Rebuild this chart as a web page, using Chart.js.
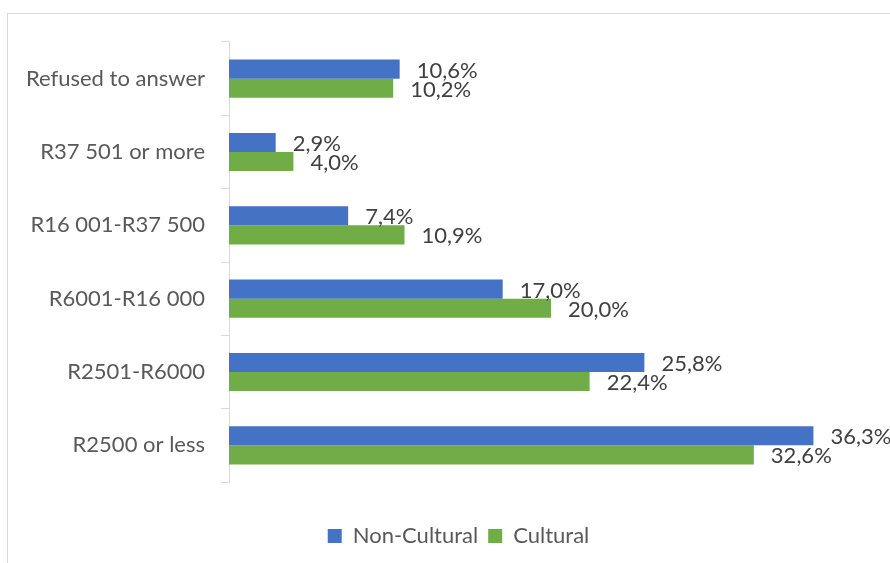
<!DOCTYPE html>
<html>
<head>
<meta charset="utf-8">
<script src="https://cdn.jsdelivr.net/npm/chart.js@4/dist/chart.umd.min.js"></script>
<style>
  html, body { margin: 0; padding: 0; background: #fff; overflow: hidden; }
  #wrap { position: relative; width: 890px; height: 563px; overflow: hidden; }
  #frame { position: absolute; left: 7px; top: 13px; width: 1000px; height: 1000px; border: 1px solid #d9d9d9; }
  canvas { position: absolute; left: 0; top: 0; }
</style>
</head>
<body>
<div id="wrap">
  <div id="frame"></div>
  <canvas id="c" width="890" height="563"></canvas>
</div>
<script>
// Household income bands, top to bottom
const categories = [
  'Refused to answer',
  'R37 501 or more',
  'R16 001-R37 500',
  'R6001-R16 000',
  'R2501-R6000',
  'R2500 or less'
];
// Share of respondents (%)
const nonCultural = [10.6, 2.9, 7.4, 17.0, 25.8, 36.3];
const cultural    = [10.2, 4.0, 10.9, 20.0, 22.4, 32.6];
const seriesNames = ['Non-Cultural', 'Cultural'];
const axisMin = 0;
const axisMax = 40;

const FONT = 'Lato';

function fmt(v) {
  return v.toFixed(1).replace('.', ',') + '%';
}

// Writes each bar's value just past its end
const valueLabels = {
  id: 'valueLabels',
  afterDatasetsDraw(chart) {
    const ctx = chart.ctx;
    ctx.save();
    ctx.font = '22px ' + FONT;
    ctx.fillStyle = '#404040';
    ctx.textAlign = 'left';
    ctx.textBaseline = 'middle';
    chart.data.datasets.forEach((ds, i) => {
      chart.getDatasetMeta(i).data.forEach((bar, j) => {
        ctx.fillText(fmt(ds.data[j]), bar.x + 17, bar.y + 1.5);
      });
    });
    ctx.restore();
  }
};

// Nudges the legend so it sits a little right of the canvas centre
const legendShift = {
  id: 'legendShift',
  afterLayout(chart) {
    const lg = chart.legend;
    if (lg) { lg.left += 44; lg.right += 0; }
  }
};

function draw() {
  new Chart(document.getElementById('c'), {
    type: 'bar',
    data: {
      labels: categories,
      datasets: [
        { label: seriesNames[0], data: nonCultural, backgroundColor: '#4472C4',
          categoryPercentage: 0.52, barPercentage: 1 },
        { label: seriesNames[1], data: cultural, backgroundColor: '#70AD47',
          categoryPercentage: 0.52, barPercentage: 1 }
      ]
    },
    options: {
      indexAxis: 'y',
      responsive: false,
      animation: false,
      devicePixelRatio: 1,
      layout: { padding: { left: 0, right: 17, top: 42, bottom: 6 } },
      scales: {
        x: {
          min: axisMin, max: axisMax,
          grid: { display: false },
          border: { display: false },
          ticks: { display: false },
          afterFit(s) { s.height = 33; }
        },
        y: {
          grid: { display: true, drawOnChartArea: false, drawTicks: true, tickLength: 8,
                  color: '#d9d9d9', offset: true },
          border: { display: true, color: '#d9d9d9', width: 1 },
          ticks: { color: '#595959', font: { family: FONT, size: 22 }, padding: 16 },
          afterFit(s) { s.width = 229; }
        }
      },
      plugins: {
        legend: {
          position: 'bottom',
          labels: { boxWidth: 14, boxHeight: 14, color: '#595959',
                    font: { family: FONT, size: 22 }, padding: 10 }
        },
        tooltip: { enabled: false }
      }
    },
    plugins: [valueLabels, legendShift]
  });
}

if (document.fonts && document.fonts.load) {
  document.fonts.load('22px ' + FONT).then(draw, draw);
} else {
  draw();
}
</script>
</body>
</html>
